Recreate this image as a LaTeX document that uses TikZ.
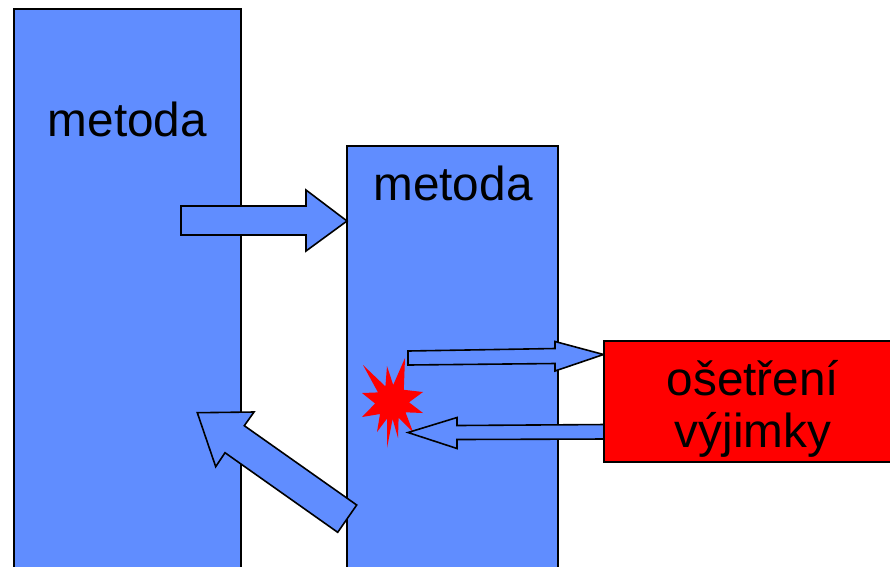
\documentclass[tikz,border=0pt]{standalone}
\usepackage{fontspec}
\setmainfont{Liberation Sans}
\definecolor{boxblue}{RGB}{96,141,255}
\definecolor{errred}{RGB}{255,0,0}
\begin{document}
\begin{tikzpicture}[x=1pt,y=-1pt,
  outline/.style={draw=black,line width=1.6pt,line join=miter},
  frame/.style={outline,fill=boxblue,minimum width=#1,inner sep=0pt},
  flow/.style={outline,fill=boxblue},
  label/.style={font=\fontsize{47.7}{52}\selectfont,anchor=base,inner sep=0pt,align=center}]
\useasboundingbox (0,0) rectangle (890,566);
\clip (0,0) rectangle (890,566);

% the two method frames (they run on past the bottom edge)
\node[frame=227pt,minimum height=571pt] (caller) at (127.5,294.5) {};
\node[frame=211pt,minimum height=434pt] (callee) at (452.5,363) {};

% call into the second method
\draw[flow] (181,206) -- (306,206) -- (306,190) -- (347,221) -- (306,251) -- (306,235) -- (181,235) -- cycle;

% return to the caller
\draw[flow] (197.3,412.7) -- (254,412) -- (244.3,425.7) -- (356.7,505) -- (337.7,532.3) -- (225,452.7) -- (215.7,466.7) -- cycle;

% exception burst
\fill[errred] (363,365) -- (385.4,386.4) -- (387,366) -- (393.2,385) -- (405,358) -- (403.8,389.8)
  -- (423,392) -- (409,402.3) -- (423,413) -- (405.5,412.3) -- (413,432) -- (398.6,417.6)
  -- (398,438) -- (392.6,419) -- (387,448) -- (387.2,418.3) -- (377,432) -- (380,414)
  -- (362,417) -- (375.1,403.5) -- (362,393) -- (378,392.4) -- cycle;

% to the handler and back
\draw[flow] (408,351) -- (555,348.5) -- (555,341.5) -- (603.5,354.5) -- (555,371) -- (555,363.5) -- (408,365) -- cycle;
\draw[flow] (606,424.5) -- (457,425.5) -- (457,417.5) -- (408,432.5) -- (457,448.5) -- (457,439.5) -- (606,439) -- cycle;

% exception handler
\node[outline,fill=errred,minimum width=296pt,minimum height=121pt,inner sep=0pt] (handler) at (752,401.5) {};

% labels
\node[label] (t1) at (127.5,136) {metoda};
\node[label] (t2) at (453,200) {metoda};
\node[label] (t3) at (753,447) {ošetření\\výjimky};
\end{tikzpicture}
\end{document}
